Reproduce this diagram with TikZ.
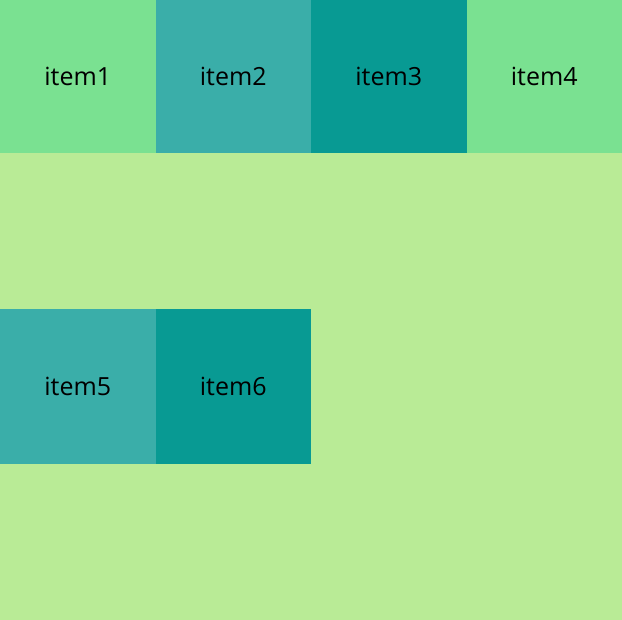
\documentclass[tikz,border=0pt]{standalone}
\usepackage{fontspec}
\setmainfont{Open Sans}
\usepackage{xcolor}
\usepackage{tikz}
\definecolor{gridbg}{HTML}{B9EB96}
\definecolor{lightmint}{HTML}{7AE191}
\definecolor{midteal}{HTML}{3AAEA9}
\definecolor{darkteal}{HTML}{089A93}
\usetikzlibrary{positioning}

\tikzset{
	cell/.style = {rectangle, minimum width = 155.5pt, minimum height = 155.5pt, inner sep = 0pt, outer sep = 0pt, font = \fontsize{25}{30}\selectfont}
}

\begin{document}
\begin{tikzpicture}[x=1pt, y=-1pt]
	\fill[gridbg] (0,0) rectangle (622,620);
	\useasboundingbox (0,0) rectangle (622,620);
	
	\node[cell, anchor = north west, minimum height = 153.5pt, fill = lightmint] (item1) at (0,0) {item1};
	
	\node[cell, right = 0pt of item1, minimum height = 153.5pt, fill = midteal] (item2) {item2};
	
	\node[cell, right = 0pt of item2, minimum height = 153.5pt, fill = darkteal] (item3) {item3};
	
	\node[cell, right = 0pt of item3, minimum height = 153.5pt, fill = lightmint] (item4) {item4};
	
	\node[cell, anchor = north west, fill = midteal] (item5) at (0,309) {item5};
	
	\node[cell, right = 0pt of item5, fill = darkteal] (item6) {item6};
\end{tikzpicture}
\end{document}
